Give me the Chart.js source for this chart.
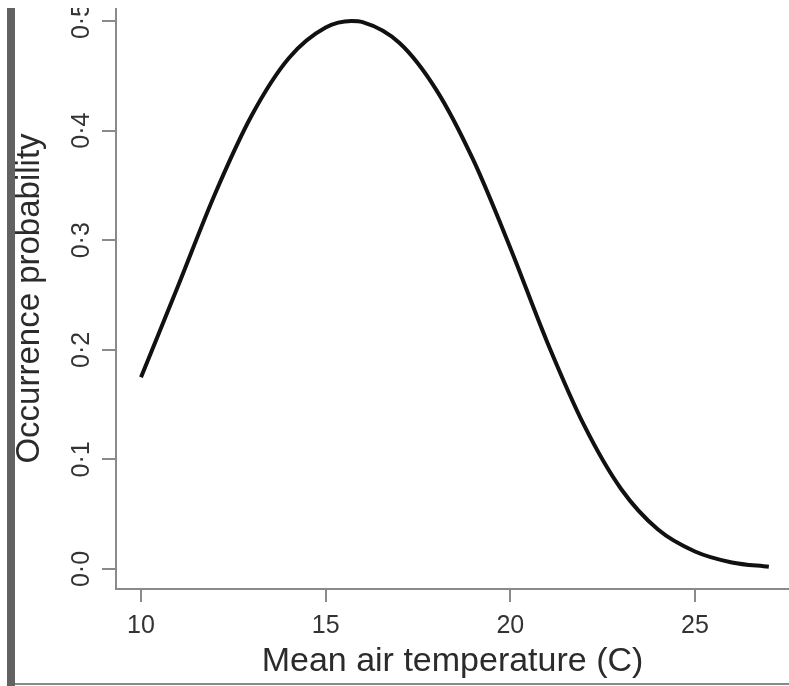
<!DOCTYPE html>
<html lang="en">
<head>
<meta charset="UTF-8">
<title>Occurrence probability</title>
<script src="https://cdn.jsdelivr.net/npm/chart.js@4.4.0/dist/chart.umd.min.js"></script>
<style>
  html, body { margin: 0; padding: 0; background: #fff; }
</style>
</head>
<body>
<canvas id="myChart" width="789" height="686"></canvas>
<script>
// values
const temps = [10, 11, 12, 13, 14, 15, 15.7, 16, 17, 18, 19, 20, 21, 22, 23, 24, 25, 26, 27];
const probs = [0.175, 0.258, 0.342, 0.414, 0.466, 0.494, 0.5, 0.499, 0.48, 0.437, 0.373, 0.293, 0.207, 0.131, 0.073, 0.036, 0.016, 0.006, 0.002];
const xTicks = [10, 15, 20, 25];
const yTicks = [0, 0.1, 0.2, 0.3, 0.4, 0.5];
const yTickLabels = ['0·0', '0·1', '0·2', '0·3', '0·4', '0·5'];

Chart.defaults.font.family = "'Liberation Sans', Arial, Helvetica, sans-serif";

// rotated y labels + the cropped panel edge on the left
const extras = {
    id: 'extras',
    beforeDraw(chart) {
        const ctx = chart.ctx;
        ctx.save();
        ctx.fillStyle = '#fff';
        ctx.fillRect(0, 0, chart.width, chart.height);
        ctx.restore();
    },
    afterDraw(chart) {
        const ctx = chart.ctx;
        const y = chart.scales.y;
        ctx.save();
        ctx.beginPath();
        ctx.rect(0, 8, chart.width, chart.height);
        ctx.clip();
        ctx.fillStyle = '#333';
        ctx.font = "25px 'Liberation Sans', Arial, sans-serif";
        ctx.textAlign = 'center';
        ctx.textBaseline = 'middle';
        yTicks.forEach((v, i) => {
            ctx.save();
            ctx.translate(82, y.getPixelForValue(v));
            ctx.rotate(-Math.PI / 2);
            ctx.fillText(yTickLabels[i], 0, 0);
            ctx.restore();
        });
        ctx.restore();

        ctx.save();
        ctx.fillStyle = '#fff';
        ctx.fillRect(0, 0, chart.width, 8);
        ctx.fillStyle = '#626262';
        ctx.fillRect(7, 8, 8, chart.height - 8);
        ctx.fillStyle = '#8a8a8a';
        ctx.fillRect(15, 683, chart.width - 15, 2);
        ctx.restore();
    }
};

new Chart(document.getElementById('myChart').getContext('2d'), {
    type: 'line',
    data: {
        datasets: [{
            data: temps.map((t, i) => ({ x: t, y: probs[i] })),
            borderColor: '#111',
            borderWidth: 4,
            pointRadius: 0,
            fill: false,
            cubicInterpolationMode: 'monotone'
        }]
    },
    options: {
        responsive: false,
        animation: false,
        layout: { padding: { top: 8, right: 0, left: 0, bottom: 0 } },
        plugins: { legend: { display: false }, tooltip: { enabled: false } },
        scales: {
            x: {
                type: 'linear',
                min: 9.323,
                max: 27.546,
                afterBuildTicks: s => { s.ticks = xTicks.map(v => ({ value: v })); },
                afterFit: s => { s.height = 97; },
                ticks: { color: '#333', font: { size: 25 }, padding: 9, maxRotation: 0 },
                grid: { drawOnChartArea: false, tickLength: 13, color: '#8a8a8a', lineWidth: 2 },
                border: { color: '#8a8a8a', width: 2 },
                title: {
                    display: true,
                    text: 'Mean air temperature (C)',
                    color: '#2b2b2b',
                    font: { size: 34 },
                    padding: { top: 0, bottom: 4 }
                }
            },
            y: {
                type: 'linear',
                min: -0.01825,
                max: 0.5119,
                afterBuildTicks: s => { s.ticks = yTicks.map(v => ({ value: v })); },
                afterFit: s => { s.width = 116; },
                ticks: { display: false },
                grid: { drawOnChartArea: false, tickLength: 14, color: '#8a8a8a', lineWidth: 2 },
                border: { color: '#8a8a8a', width: 2 },
                title: {
                    display: true,
                    text: 'Occurrence probability',
                    color: '#2b2b2b',
                    font: { size: 33 },
                    padding: { top: 10, bottom: 0 }
                }
            }
        }
    },
    plugins: [extras]
});
</script>
</body>
</html>
